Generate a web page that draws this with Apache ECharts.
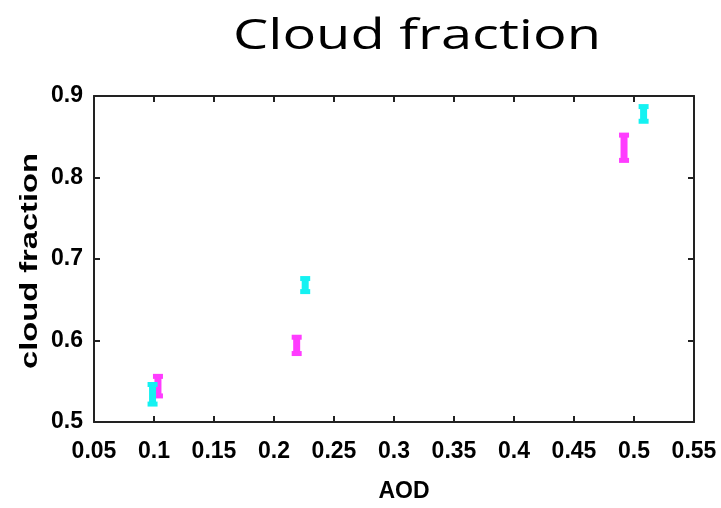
<!DOCTYPE html>
<html>
<head>
<meta charset="utf-8">
<script src="https://cdn.jsdelivr.net/npm/echarts@6/dist/echarts.min.js"></script>
<style>html,body{margin:0;padding:0;background:#fff;}#c{width:721px;height:508px;}</style>
</head>
<body>
<div id="c"></div>
<script>
// Data
var magentaX = [0.1033, 0.2189, 0.4917];
var magentaLow = [0.532, 0.584, 0.821];
var magentaHigh = [0.556, 0.604, 0.852];
var cyanX = [0.0988, 0.226, 0.508];
var cyanLow = [0.522, 0.660, 0.869];
var cyanHigh = [0.546, 0.676, 0.887];
var xTicks = [0.05, 0.1, 0.15, 0.2, 0.25, 0.3, 0.35, 0.4, 0.45, 0.5, 0.55];
var yTicks = [0.5, 0.6, 0.7, 0.8, 0.9];

function rows(xs, lo, hi) {
  return xs.map(function (x, i) { return [x, lo[i], hi[i]]; });
}

function renderBar(color) {
  return function (params, api) {
    var top = api.coord([api.value(0), api.value(2)]);
    var bot = api.coord([api.value(0), api.value(1)]);
    var cx = top[0];
    var st = {fill: color};
    return {
      type: 'group',
      children: [
        {type: 'rect', shape: {x: cx - 3.5, y: top[1], width: 7, height: bot[1] - top[1]}, style: st},
        {type: 'rect', shape: {x: cx - 5, y: top[1] - 2.5, width: 10, height: 5}, style: st},
        {type: 'rect', shape: {x: cx - 5, y: bot[1] - 2.5, width: 10, height: 5}, style: st}
      ]
    };
  };
}

var chart = echarts.init(document.getElementById('c'), null, {renderer: 'canvas'});
var tickFont = {fontFamily: 'Liberation Sans', fontWeight: 'bold', fontSize: 23, color: '#000'};
var axisLine = {show: true, lineStyle: {color: '#222', width: 2}};
var axisTick = {show: true, inside: true, length: 6, lineStyle: {color: '#222', width: 2}};
function fmt(v) { return String(+v.toFixed(2)); }

chart.setOption({
  animation: false,
  backgroundColor: '#fff',
  grid: {left: 94, right: 27, top: 96, bottom: 79},
  xAxis: [{
    type: 'value', min: xTicks[0], max: xTicks[xTicks.length - 1], interval: 0.05,
    axisLine: axisLine, axisTick: axisTick, splitLine: {show: false},
    axisLabel: Object.assign({margin: 18, formatter: fmt}, tickFont),
    name: 'AOD', nameLocation: 'middle', nameGap: 58,
    nameTextStyle: {fontFamily: 'Liberation Sans', fontWeight: 'bold', fontSize: 23, color: '#000', padding: [0, 0, 0, 20]}
  }, {
    type: 'value', position: 'top', min: xTicks[0], max: xTicks[xTicks.length - 1], interval: 0.05,
    axisLine: axisLine, axisTick: axisTick, splitLine: {show: false}, axisLabel: {show: false}
  }],
  yAxis: [{
    type: 'value', min: yTicks[0], max: yTicks[yTicks.length - 1], interval: 0.1,
    axisLine: axisLine, axisTick: axisTick, splitLine: {show: false},
    axisLabel: Object.assign({margin: 11, formatter: fmt}, tickFont)
  }, {
    type: 'value', position: 'right', min: yTicks[0], max: yTicks[yTicks.length - 1], interval: 0.1,
    axisLine: axisLine, axisTick: axisTick, splitLine: {show: false}, axisLabel: {show: false}
  }],
  graphic: [{
    type: 'text', x: 417, y: 37, scaleY: 0.76,
    style: {text: 'Cloud fraction', fontFamily: 'Open Sans', fontWeight: 'normal', fontSize: 56,
      fill: '#000', textAlign: 'center', textVerticalAlign: 'middle'}
  }, {
    type: 'text', x: 31, y: 261, rotation: Math.PI / 2, scaleX: 1.42,
    style: {text: 'cloud fraction', fontFamily: 'Liberation Sans', fontWeight: 'bold', fontSize: 23,
      fill: '#000', textAlign: 'center', textVerticalAlign: 'middle'}
  }],
  series: [{
    type: 'custom', name: 'magenta', renderItem: renderBar('#ff3cff'),
    encode: {x: 0, y: [1, 2]}, data: rows(magentaX, magentaLow, magentaHigh)
  }, {
    type: 'custom', name: 'cyan', renderItem: renderBar('#14f2f2'),
    encode: {x: 0, y: [1, 2]}, data: rows(cyanX, cyanLow, cyanHigh)
  }]
});
</script>
</body>
</html>
